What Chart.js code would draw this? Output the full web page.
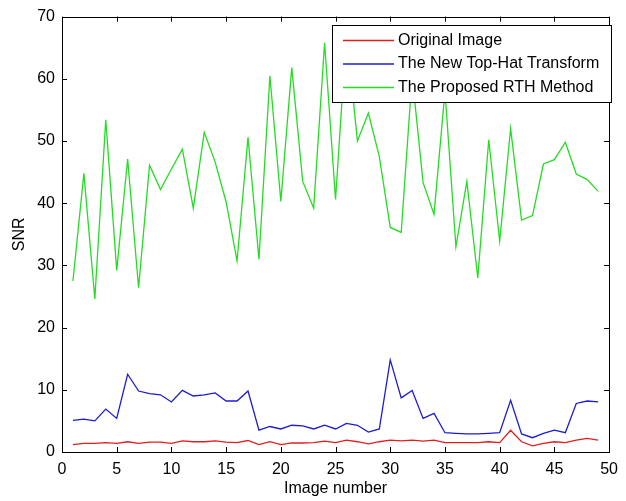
<!DOCTYPE html>
<html>
<head>
<meta charset="utf-8">
<script src="https://cdn.jsdelivr.net/npm/chart.js@4"></script>
<style>
  html, body { margin: 0; padding: 0; background: #fff; }
  #wrap { width: 626px; height: 501px; }
</style>
</head>
<body>
<div id="wrap"><canvas id="snrChart" width="626" height="501"></canvas></div>
<script>
const imageNumbers = [1, 2, 3, 4, 5, 6, 7, 8, 9, 10, 11, 12, 13, 14, 15, 16, 17, 18, 19, 20,
  21, 22, 23, 24, 25, 26, 27, 28, 29, 30, 31, 32, 33, 34, 35, 36, 37, 38, 39, 40,
  41, 42, 43, 44, 45, 46, 47, 48, 49];

const originalImage = [1.2, 1.4, 1.4, 1.5, 1.4, 1.65, 1.4, 1.6, 1.6, 1.4,
  1.8, 1.65, 1.65, 1.8, 1.6, 1.5, 1.85, 1.2, 1.65, 1.2,
  1.45, 1.45, 1.5, 1.75, 1.5, 1.9, 1.65, 1.3, 1.65, 1.9,
  1.8, 1.9, 1.75, 1.9, 1.5, 1.5, 1.5, 1.5, 1.65, 1.5,
  3.5, 1.65, 1.0, 1.4, 1.65, 1.5, 1.9, 2.2, 1.9];

const newTopHat = [5.1, 5.3, 5.0, 6.9, 5.4, 12.5, 9.8, 9.4, 9.2, 8.05,
  9.9, 9.0, 9.2, 9.5, 8.2, 8.2, 9.8, 3.5, 4.1, 3.7,
  4.3, 4.2, 3.7, 4.3, 3.7, 4.6, 4.3, 3.2, 3.7, 14.8,
  8.7, 9.9, 5.4, 6.2, 3.1, 3.0, 2.9, 2.9, 3.0, 3.1,
  8.3, 2.9, 2.3, 3.0, 3.5, 3.1, 7.8, 8.2, 8.05];

const proposedRTH = [27.5, 44.8, 24.6, 53.4, 29.2, 47.1, 26.4, 46.1, 42.2, 45.5,
  48.7, 39.2, 51.4, 46.6, 40.2, 30.7, 50.6, 31.0, 60.5, 40.3,
  61.8, 43.5, 39.2, 65.8, 40.6, 67.5, 50.0, 54.5, 47.5, 36.1,
  35.3, 60.5, 43.3, 38.2, 58.0, 33.0, 43.5, 28.0, 50.2, 33.9,
  52.0, 37.3, 38.0, 46.3, 47.0, 49.8, 44.7, 43.8, 41.9];

const xTicks = [0, 5, 10, 15, 20, 25, 30, 35, 40, 45, 50];
const yTicks = [0, 10, 20, 30, 40, 50, 60, 70];

function pairs(values) {
  return imageNumbers.map((n, i) => ({ x: n, y: values[i] }));
}

const axisFont = { family: 'Arial, "Liberation Sans", sans-serif', size: 16, lineHeight: 1.2 };

// matlab style box with inward ticks on all four sides
const boxPlugin = {
  id: 'box',
  afterDatasetsDraw(chart) {
    const { ctx, chartArea: a, scales } = chart;
    ctx.save();
    ctx.strokeStyle = '#000';
    ctx.lineWidth = 1;
    ctx.strokeRect(Math.round(a.left) + 0.5, Math.round(a.top) + 0.5,
      Math.round(a.right - a.left), Math.round(a.bottom - a.top));
    const len = 5;
    ctx.beginPath();
    xTicks.forEach(v => {
      const px = Math.round(scales.x.getPixelForValue(v)) + 0.5;
      ctx.moveTo(px, a.bottom); ctx.lineTo(px, a.bottom - len);
      ctx.moveTo(px, a.top); ctx.lineTo(px, a.top + len);
    });
    yTicks.forEach(v => {
      const py = Math.round(scales.y.getPixelForValue(v)) + 0.5;
      ctx.moveTo(a.left, py); ctx.lineTo(a.left + len, py);
      ctx.moveTo(a.right, py); ctx.lineTo(a.right - len, py);
    });
    ctx.stroke();
    ctx.restore();
  }
};

const legendPlugin = {
  id: 'boxLegend',
  afterDraw(chart) {
    const { ctx } = chart;
    const x0 = 332.5, y0 = 25.5, w = 279, h = 77;
    ctx.save();
    ctx.fillStyle = '#fff';
    ctx.fillRect(x0, y0, w, h);
    ctx.strokeStyle = '#000';
    ctx.lineWidth = 1;
    ctx.strokeRect(x0, y0, w, h);
    ctx.font = '16px Arial, "Liberation Sans", sans-serif';
    ctx.textBaseline = 'middle';
    ctx.fillStyle = '#000';
    chart.data.datasets.forEach((ds, i) => {
      const y = 40.5 + i * 23.5;
      ctx.strokeStyle = ds.borderColor;
      ctx.lineWidth = 1.3;
      ctx.beginPath();
      ctx.moveTo(343, y); ctx.lineTo(394, y);
      ctx.stroke();
      ctx.fillText(ds.label, 398, y);
    });
    ctx.restore();
  }
};

new Chart(document.getElementById('snrChart'), {
  type: 'line',
  data: {
    datasets: [
      { label: 'Original Image', data: pairs(originalImage), borderColor: '#e01e1e' },
      { label: 'The New Top-Hat Transform', data: pairs(newTopHat), borderColor: '#1c1cd0' },
      { label: 'The Proposed RTH Method', data: pairs(proposedRTH), borderColor: '#22dd22' }
    ]
  },
  options: {
    responsive: false,
    animation: false,
    events: [],
    layout: { padding: { left: 0, right: 9, top: 15, bottom: 0 } },
    elements: {
      line: { borderWidth: 1.3, tension: 0, fill: false },
      point: { radius: 0 }
    },
    plugins: { legend: { display: false }, tooltip: { enabled: false } },
    scales: {
      x: {
        type: 'linear',
        min: 0, max: 50,
        grid: { display: false, drawTicks: false },
        border: { display: false },
        ticks: { stepSize: 5, color: '#000', font: axisFont, padding: 8, maxRotation: 0 },
        title: { display: true, text: 'Image number', color: '#000', font: axisFont, padding: { top: 0, bottom: 3 } },
        afterFit(scale) { scale.height = 49; }
      },
      y: {
        min: 0, max: 70,
        grid: { display: false, drawTicks: false },
        border: { display: false },
        ticks: { stepSize: 10, color: '#000', font: axisFont, padding: 7 },
        title: { display: true, text: 'SNR', color: '#000', font: axisFont, padding: { top: 10, bottom: 0 } },
        afterFit(scale) { scale.width = 62; }
      }
    }
  },
  plugins: [boxPlugin, legendPlugin]
});
</script>
</body>
</html>
